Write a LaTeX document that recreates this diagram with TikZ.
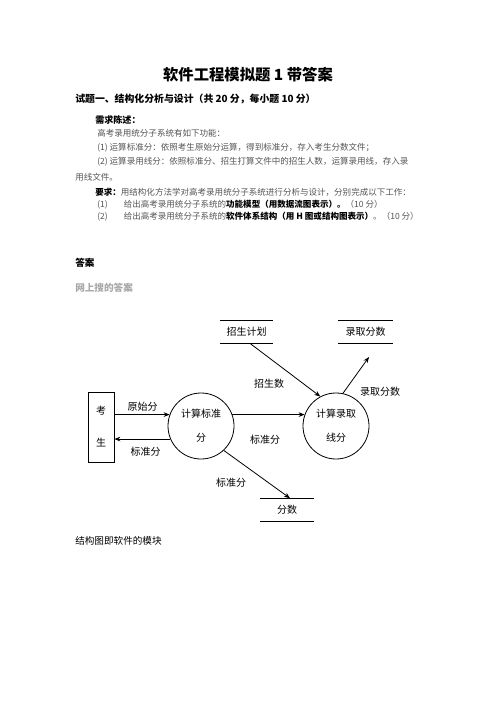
\documentclass[tikz,border=0pt]{standalone}
\usepackage{fontspec}
\setmainfont{Noto Sans CJK SC}
\usetikzlibrary{arrows.meta,calc}
\definecolor{bodygray}{HTML}{555555}
\definecolor{paleg}{HTML}{A8A8A8}
\begin{document}
\begin{tikzpicture}[x=0.75pt,y=-0.75pt,
  txt/.style={inner sep=0pt, anchor=west},
  body/.style={txt, font=\fontsize{6.4pt}{8pt}\selectfont, text=bodygray},
  dl/.style={font=\fontsize{7.5pt}{9pt}\selectfont, inner sep=0pt},
  proc/.style={draw, circle, line width=0.6pt, minimum size=49.5pt, inner sep=0pt, align=center, font=\fontsize{7.5pt}{18pt}\selectfont},
  ext/.style={draw, line width=0.6pt, minimum width=19.5pt, minimum height=52.5pt, inner sep=0pt, align=center, font=\fontsize{7.5pt}{24pt}\selectfont},
  store/.style={minimum height=17.25pt, inner sep=0pt, font=\fontsize{7.5pt}{9pt}\selectfont},
  storeline/.style={line width=0.8pt},
  arr/.style={line width=0.6pt, -{Stealth[length=4.5pt,width=3.5pt]}},
]
\useasboundingbox (0,0) rectangle (496,702);
\fill[white] (0,0) rectangle (496,702);

% ---------- text block ----------
\node[inner sep=0pt] (title) at (248,75) {\fontsize{11.5pt}{13pt}\selectfont\bfseries 软件工程模拟题 1 带答案};
\node[txt, font=\fontsize{7.4pt}{9pt}\selectfont\bfseries] (q1) at (75,99) {试题一、结构化分析与设计（共 20 分，每小题 10 分）};
\node[txt, font=\fontsize{6.8pt}{8pt}\selectfont\bfseries] (xq) at (95,120) {需求陈述：};
\node[body] (l1) at (97,133) {高考录用统分子系统有如下功能：};
\node[body] (l2) at (97,148) {(1)\ 运算标准分：依照考生原始分运算，得到标准分，存入考生分数文件；};
\node[body] (l3) at (97,162) {(2)\ 运算录用线分：依照标准分、招生打算文件中的招生人数，运算录用线，存入录};
\node[body] (l4) at (75,177) {用线文件。};
\node[body] (l5) at (95,192) {{\color{black}\bfseries 要求：}用结构化方法学对高考录用统分子系统进行分析与设计，分别完成以下工作：};
\node[body] (l6) at (97,205) {(1)\hspace{12pt}给出高考录用统分子系统的{\color{black}\bfseries 功能模型（用数据流图表示）。}（10 分）};
\node[body] (l7) at (97,217) {(2)\hspace{12pt}给出高考录用统分子系统的{\color{black}\bfseries 软件体系结构（用 H 图或结构图表示）}。（10 分）};
\node[txt, font=\fontsize{7.2pt}{9pt}\selectfont\bfseries] (da) at (75,263) {答案};
\node[txt, font=\fontsize{7.2pt}{9pt}\selectfont\bfseries, text=paleg] (ws) at (75,288) {网上搜的答案};
\node[txt, font=\fontsize{7.2pt}{9pt}\selectfont] (jg) at (75,541) {结构图即软件的模块};

% ---------- data flow diagram ----------
\node[ext] (ks) at (101,427) {考\\生};
\node[proc] (c1) at (201,426) {计算标准\\分};
\node[proc] (c2) at (336,426) {计算录取\\线分};

\node[store, minimum width=39.75pt] (zsjh) at (246.5,332) {招生计划};
\draw[storeline] (zsjh.north west) -- (zsjh.north east) (zsjh.south west) -- (zsjh.south east);
\node[store, minimum width=41pt] (lqfs) at (365.5,332) {录取分数};
\draw[storeline] (lqfs.north west) -- (lqfs.north east) (lqfs.south west) -- (lqfs.south east);
\node[store, minimum width=40.5pt] (fs) at (287,510) {分数};
\draw[storeline] (fs.north west) -- (fs.north east) (fs.south west) -- (fs.south east);

\coordinate (lqend) at (369,357);

\draw[arr] (ks.east |- c1.160) -- (c1.160);
\draw[arr] (c1.203) -- (c1.203 -| ks.east);
\draw[arr] (c1.20) -- (c2.160);
\draw[arr] ($(zsjh.south)+(4,0)$) -- (c2.118);
\draw[arr] (c2.78) -- (lqend);
\draw[arr] (c1.-47) -- ($(fs.north)+(3,0)$);

\node[dl] (t1) at (142.5,407) {原始分};
\node[dl] (t2) at (145.5,452) {标准分};
\node[dl] (t3) at (265,440) {标准分};
\node[dl] (t4) at (269,384) {招生数};
\node[dl] (t5) at (380,392) {录取分数};
\node[dl] (t6) at (231,483) {标准分};
\end{tikzpicture}
\end{document}
